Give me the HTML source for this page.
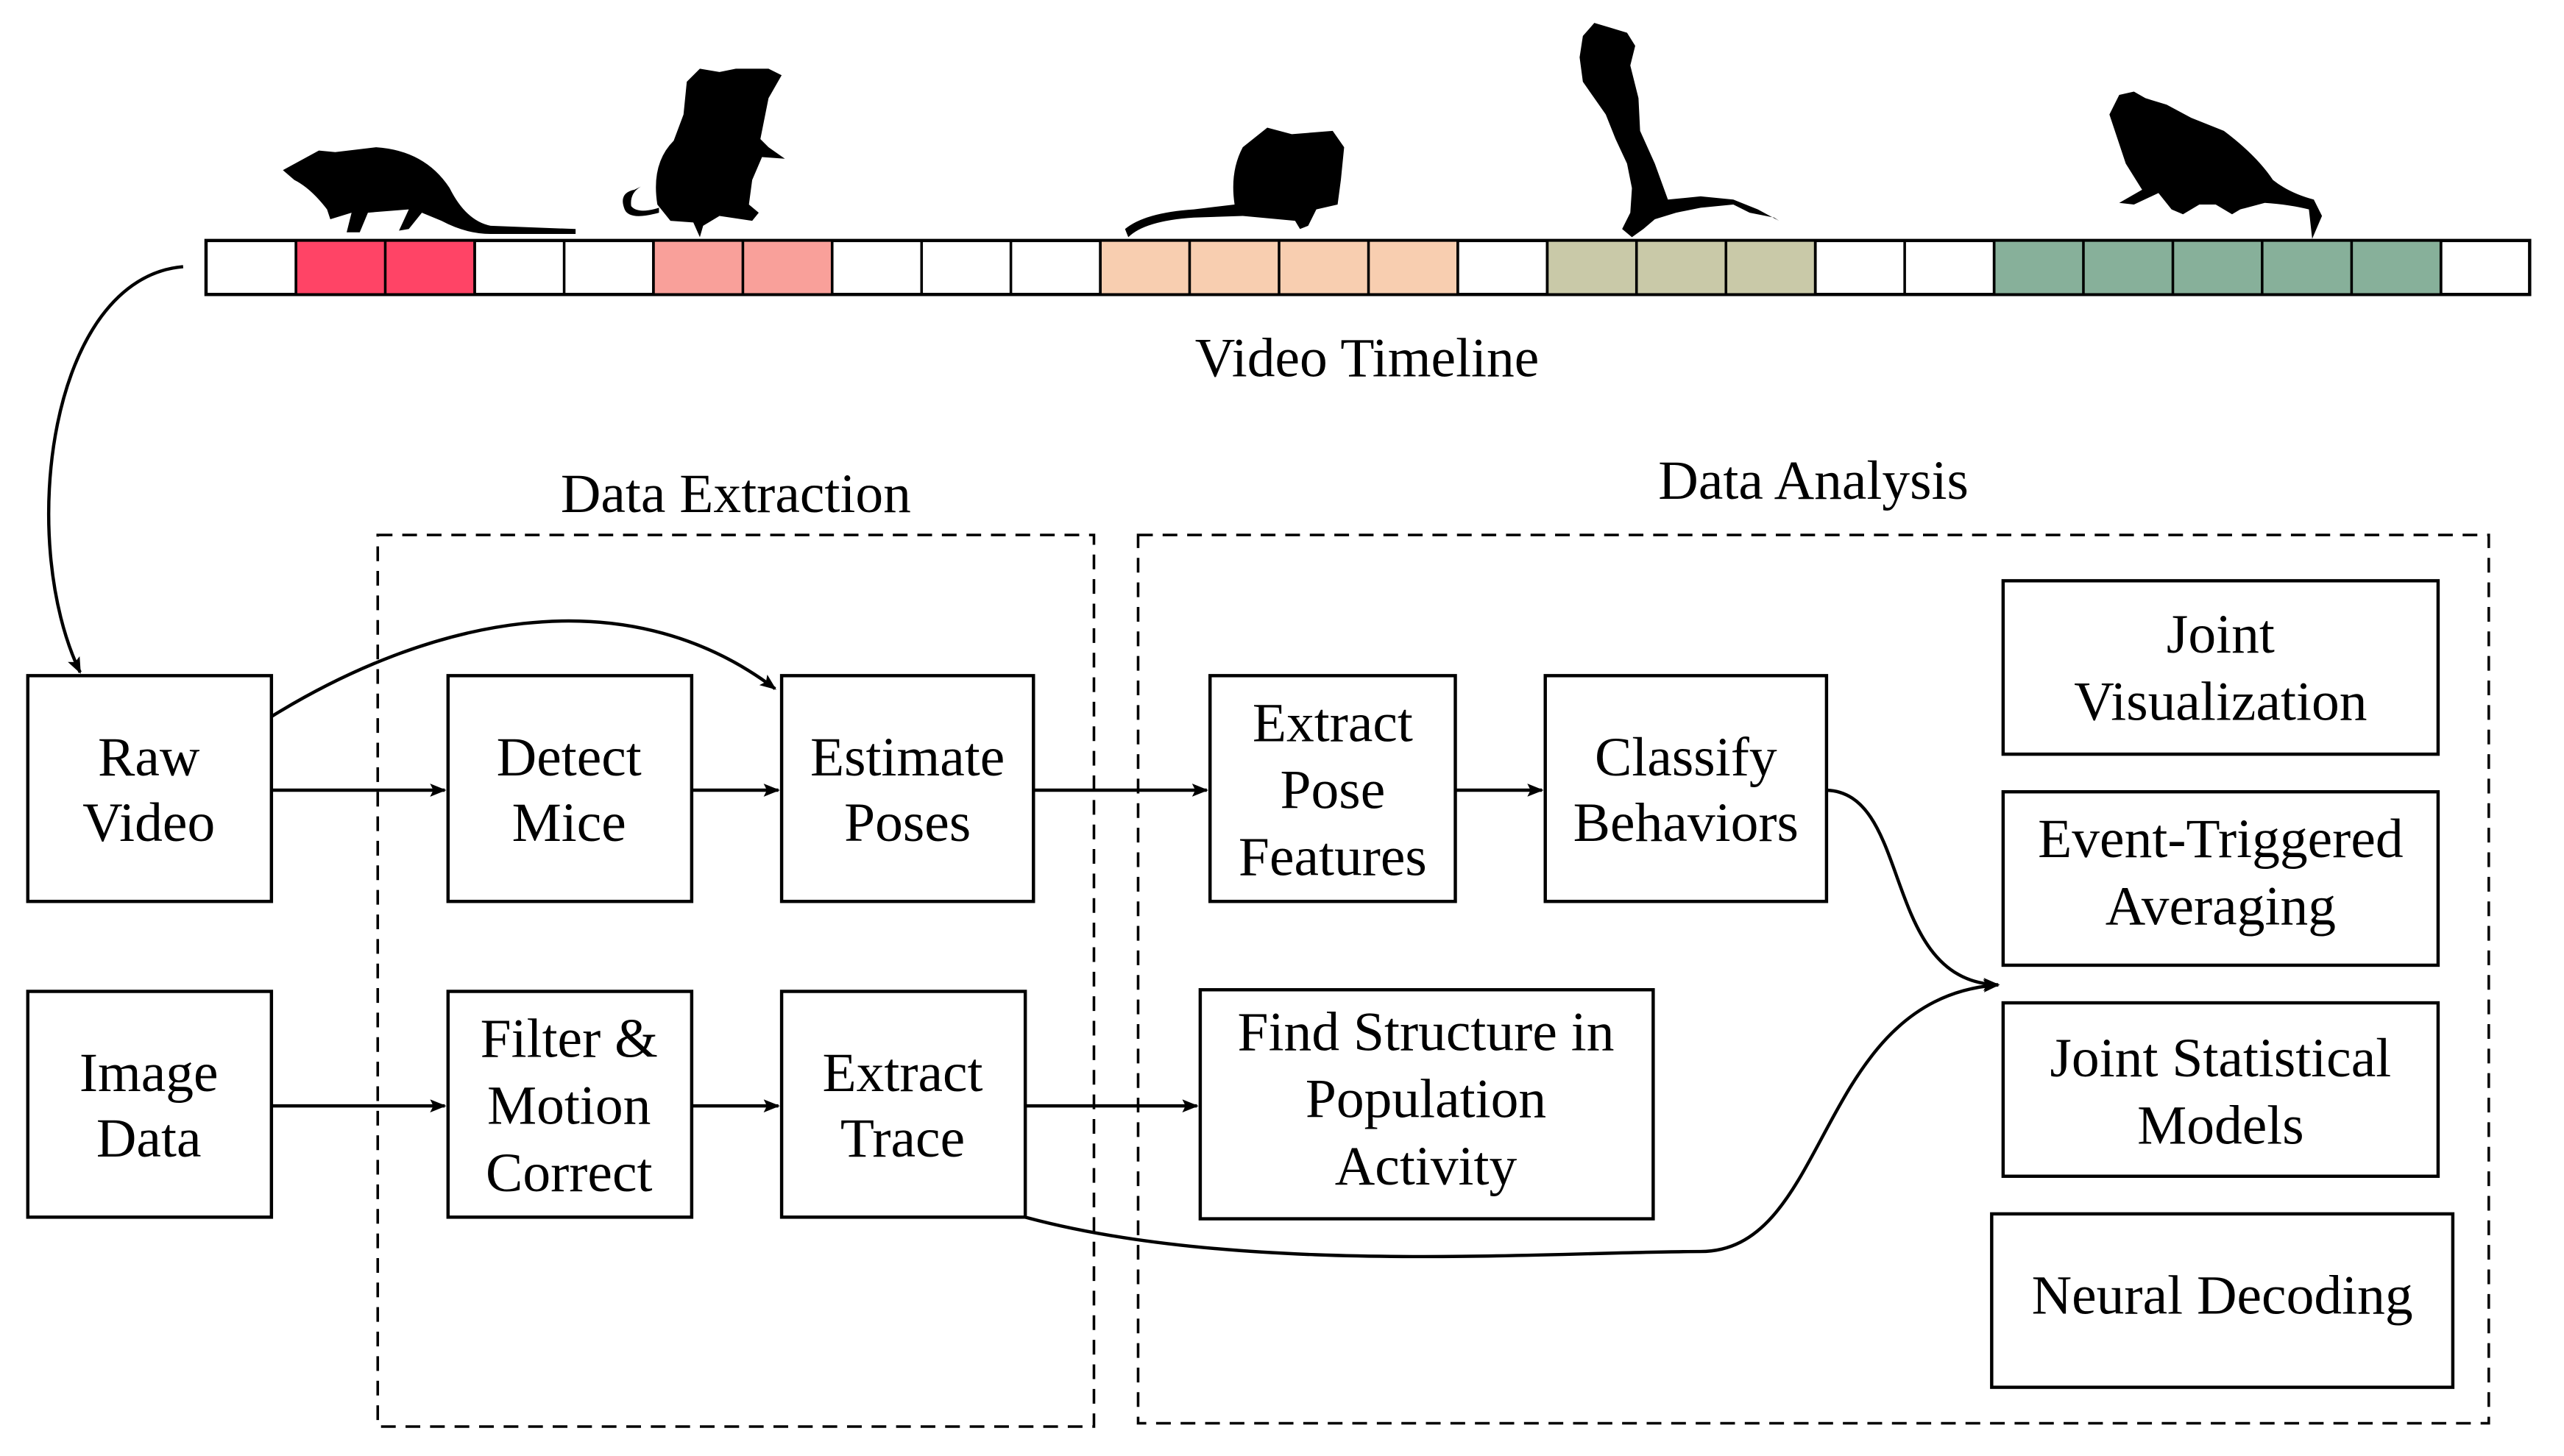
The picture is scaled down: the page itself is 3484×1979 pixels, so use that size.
<!DOCTYPE html>
<html><head><meta charset="utf-8"><style>
html,body{margin:0;padding:0;background:#fff;}
svg{display:block;}
text{font-family:"Liberation Serif",serif;font-size:34px;fill:#000;text-anchor:middle;}
</style></head><body>
<svg width="3484" height="1979" viewBox="0 0 1568 890" preserveAspectRatio="none" xmlns="http://www.w3.org/2000/svg">
<defs>
<marker id="a" markerWidth="10" markerHeight="8" refX="9" refY="4" orient="auto" markerUnits="userSpaceOnUse">
<path d="M0,0 L10,4 L0,8 L2,4 Z" fill="#000"/></marker>
</defs>
<g fill="#000">
<path d="M173,104 L195,92 L205,93 L230,90 Q260,92 275,115 Q285,135 300,138 L352,140 L352,143 L300,143 Q285,143 270,135 L258,130 L250,140 L244,141 L250,128 L225,130 L220,142 L212,142 L215,130 L202,134 L200,128 Q190,115 180,110 Z"/>
<path d="M420,50 L428,42 L440,44 L450,42 L470,42 L478,46 L470,60 L465,85 L470,90 L480,97 L466,96 L460,110 L458,125 L464,130 L460,135 L440,132 L430,138 L428,145 L424,136 L410,135 L402,125 Q398,100 412,86 L418,70 Z"/>
<path d="M403,130 Q385,135 382,128 Q378,118 388,116 L392,114 Q385,118 386,126 Q390,131 403,127 Z"/>
<path d="M760,90 L775,78 L790,82 L815,80 L822,90 L820,110 L818,125 L805,128 L800,138 L795,140 L792,135 L760,132 L730,133 Q700,135 690,145 L688,140 Q700,130 730,128 L755,125 Q752,105 760,90 Z"/>
<path d="M968,22 L975,14 L985,17 L995,20 L1000,28 L997,40 L1002,60 L1003,80 L1012,100 L1020,122 L1040,120 L1060,122 L1075,128 L1088,135 L1085,133 L1070,130 L1060,125 L1040,127 L1025,130 L1012,134 L1005,140 L998,145 L992,140 L997,130 L998,115 L995,100 L988,85 L982,70 L975,60 L968,50 L966,35 Z"/>
<path d="M1290,70 L1296,58 L1305,56 L1312,60 L1325,64 L1340,72 L1360,80 Q1380,95 1390,110 Q1400,118 1415,122 L1420,132 L1414,146 L1412,128 Q1400,125 1385,124 L1370,128 L1365,131 L1355,125 L1345,125 L1335,131 L1328,128 L1320,118 L1305,125 L1296,124 L1310,116 L1300,100 Z"/>
</g>
<g stroke="#000" stroke-width="2">
<rect x="126" y="147" width="1421" height="33" fill="#fff"/>
</g>
<g stroke="#000" stroke-width="1.6">
<rect x="181" y="147" width="109.3" height="33" fill="#ff4466"/>
<rect x="399.6" y="147" width="109.3" height="33" fill="#f9a09a"/>
<rect x="672.9" y="147" width="218.6" height="33" fill="#f8ceb0"/>
<rect x="946.2" y="147" width="164" height="33" fill="#c9c9a8"/>
<rect x="1219.5" y="147" width="273.3" height="33" fill="#87b09a"/>
<path d="M181,147V180M235.6,147V180M290.3,147V180M345,147V180M399.6,147V180M454.3,147V180M508.9,147V180M563.6,147V180M618.2,147V180M672.9,147V180M727.5,147V180M782.2,147V180M836.9,147V180M891.5,147V180M946.2,147V180M1000.8,147V180M1055.5,147V180M1110.1,147V180M1164.8,147V180M1219.5,147V180M1274.1,147V180M1328.8,147V180M1383.4,147V180M1438.1,147V180M1492.7,147V180"/>
</g>
<text x="836" y="230">Video Timeline</text>
<text x="450" y="313">Data Extraction</text>
<text x="1109" y="305">Data Analysis</text>
<g fill="none" stroke="#000" stroke-width="1.6" stroke-dasharray="9,6">
<rect x="231" y="327" width="438" height="545"/>
<rect x="696" y="327" width="826" height="543"/>
</g>
<g fill="#fff" stroke="#000" stroke-width="2">
<rect x="17" y="413" width="149" height="138"/>
<rect x="274" y="413" width="149" height="138"/>
<rect x="478" y="413" width="154" height="138"/>
<rect x="740" y="413" width="150" height="138"/>
<rect x="945" y="413" width="172" height="138"/>
<rect x="1225" y="355" width="266" height="106"/>
<rect x="1225" y="484" width="266" height="106"/>
<rect x="1225" y="613" width="266" height="106"/>
<rect x="1218" y="742" width="282" height="106"/>
<rect x="17" y="606" width="149" height="138"/>
<rect x="274" y="606" width="149" height="138"/>
<rect x="478" y="606" width="149" height="138"/>
<rect x="734" y="605" width="277" height="140"/>
</g>
<g fill="none" stroke="#000" stroke-width="2" marker-end="url(#a)">
<path d="M166,483H272"/>
<path d="M423,483H476"/>
<path d="M632,483H738"/>
<path d="M890,483H943"/>
<path d="M166,676H272"/>
<path d="M423,676H476"/>
<path d="M627,676H732"/>
<path d="M166,438 C260,380 380,350 474,421"/>
<path d="M112,163 C30,170 10,330 49,411"/>
<path d="M1117,483 C1170,485 1150,600 1222,602"/>
<path d="M627,744 C760,780 950,765 1040,765 C1120,765 1110,610 1222,602"/>
</g>
<text x="91" y="474">Raw</text><text x="91" y="514">Video</text>
<text x="348" y="474">Detect</text><text x="348" y="514">Mice</text>
<text x="555" y="474">Estimate</text><text x="555" y="514">Poses</text>
<text x="815" y="453">Extract</text><text x="815" y="494">Pose</text><text x="815" y="535">Features</text>
<text x="1031" y="474">Classify</text><text x="1031" y="514">Behaviors</text>
<text x="1358" y="399">Joint</text><text x="1358" y="440">Visualization</text>
<text x="1358" y="524">Event-Triggered</text><text x="1358" y="565">Averaging</text>
<text x="1358" y="658">Joint Statistical</text><text x="1358" y="699">Models</text>
<text x="1359" y="803">Neural Decoding</text>
<text x="91" y="667">Image</text><text x="91" y="707">Data</text>
<text x="348" y="646">Filter &amp;</text><text x="348" y="687">Motion</text><text x="348" y="728">Correct</text>
<text x="552" y="667">Extract</text><text x="552" y="707">Trace</text>
<text x="872" y="642">Find Structure in</text><text x="872" y="683">Population</text><text x="872" y="724">Activity</text>
</svg>
</body></html>
